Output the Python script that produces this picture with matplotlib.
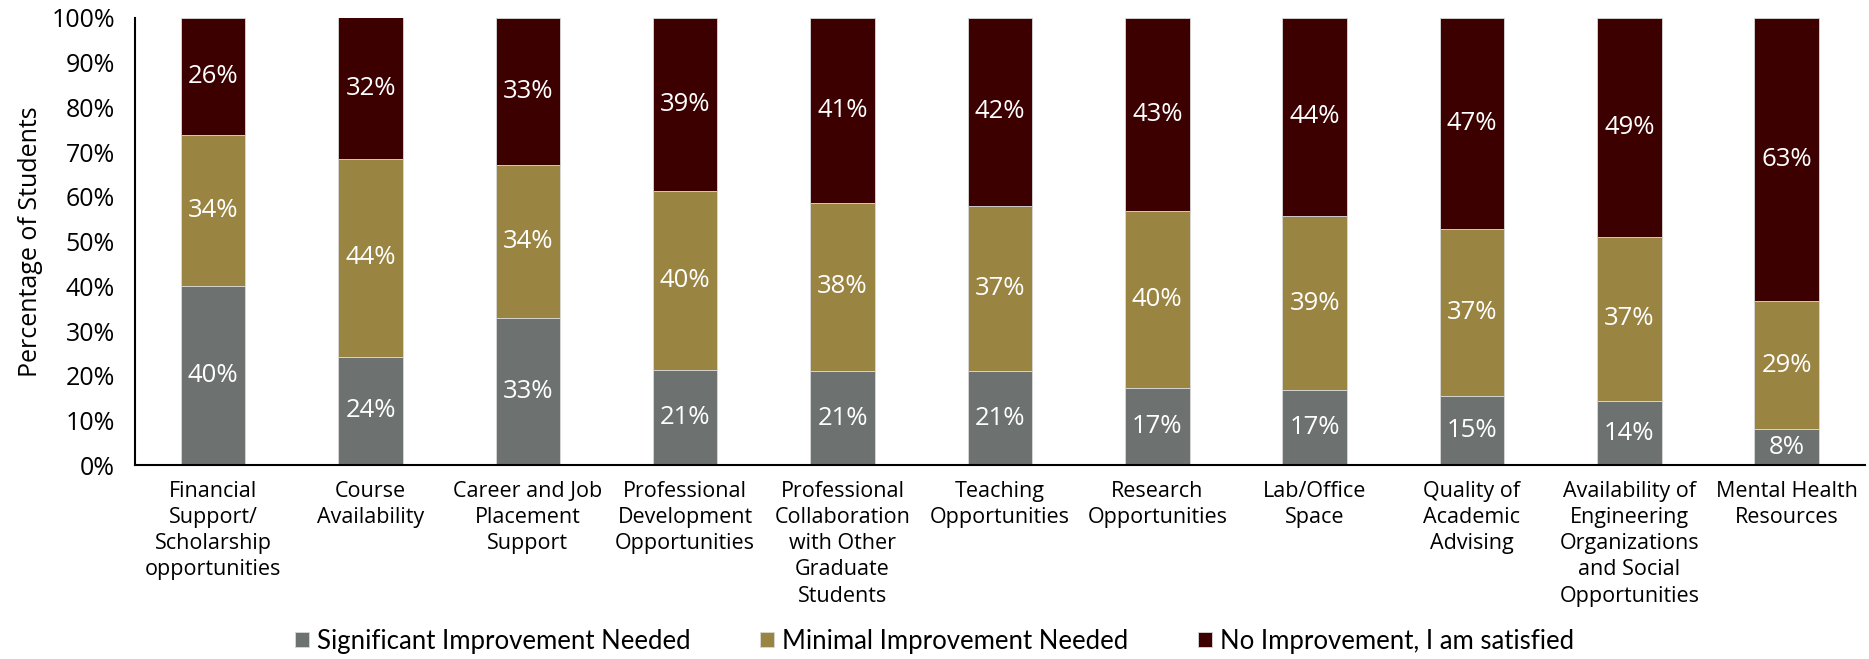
import numpy as np
import matplotlib.pyplot as plt

categories = ['Financial\nSupport/\nScholarship\nopportunities', 'Course\nAvailability',
              'Career and Job\nPlacement\nSupport', 'Professional\nDevelopment\nOpportunities',
              'Professional\nCollaboration\nwith Other\nGraduate\nStudents', 'Teaching\nOpportunities',
              'Research\nOpportunities', 'Lab/Office\nSpace', 'Quality of\nAcademic\nAdvising',
              'Availability of\nEngineering\nOrganizations\nand Social\nOpportunities',
              'Mental Health\nResources']
significant = [40.0, 24.3, 32.8, 21.2, 21.1, 21.0, 17.3, 16.8, 15.4, 14.4, 8.0]
minimal = [33.9, 44.2, 34.4, 40.1, 37.6, 36.9, 39.6, 38.9, 37.3, 36.6, 28.6]
satisfied = [26.1, 31.6, 32.8, 38.7, 41.3, 42.1, 43.1, 44.3, 47.3, 49.0, 63.4]
series_names = ['Significant Improvement Needed', 'Minimal Improvement Needed',
                'No Improvement, I am satisfied']
colors = ['#6d7271', '#9a8441', '#3c0000']

plt.rcParams['font.family'] = ['Open Sans', 'DejaVu Sans']

fig = plt.figure(figsize=(18.69, 6.59), dpi=100)
ax = fig.add_axes([0.072, 0.294, 0.926, 0.679])

x = np.arange(len(categories))
bottom = np.zeros(len(categories))
for vals, name, c in zip([significant, minimal, satisfied], series_names, colors):
    vals = np.array(vals)
    ax.bar(x, vals, 0.41, bottom=bottom, color=c, label=name,
           edgecolor='#d9d9d9', linewidth=0.6)
    for xi, b, v in zip(x, bottom, vals):
        ax.text(xi, b + v / 2, f'{int(round(v))}%', ha='center', va='center',
                color='white', fontsize=18.5)
    bottom += vals

ax.set_xlim(-0.5, 10.5)
ax.set_ylim(0, 100)
ax.set_yticks(np.arange(0, 101, 10))
ax.set_yticklabels([f'{v}%' for v in range(0, 101, 10)], fontsize=18)
ax.set_xticks(x)
ax.set_xticklabels(categories, fontsize=15.5, linespacing=1.33, va='top')
ax.tick_params(axis='both', length=0)
ax.tick_params(axis='x', pad=11)
ax.tick_params(axis='y', pad=14)
ax.set_ylabel('Percentage of Students', fontsize=18, labelpad=6)
for s in ['top', 'right']:
    ax.spines[s].set_visible(False)
for s in ['left', 'bottom']:
    ax.spines[s].set_linewidth(1.5)
    ax.spines[s].set_color('black')

fig.legend(loc='lower center', bbox_to_anchor=(0.5, -0.027), ncol=3, frameon=False,
           prop={'family': ['Lato', 'DejaVu Sans'], 'size': 18.5},
           handlelength=0.55, handleheight=0.55, handletextpad=0.3, columnspacing=2.7)

plt.savefig('out.png', dpi=100)
